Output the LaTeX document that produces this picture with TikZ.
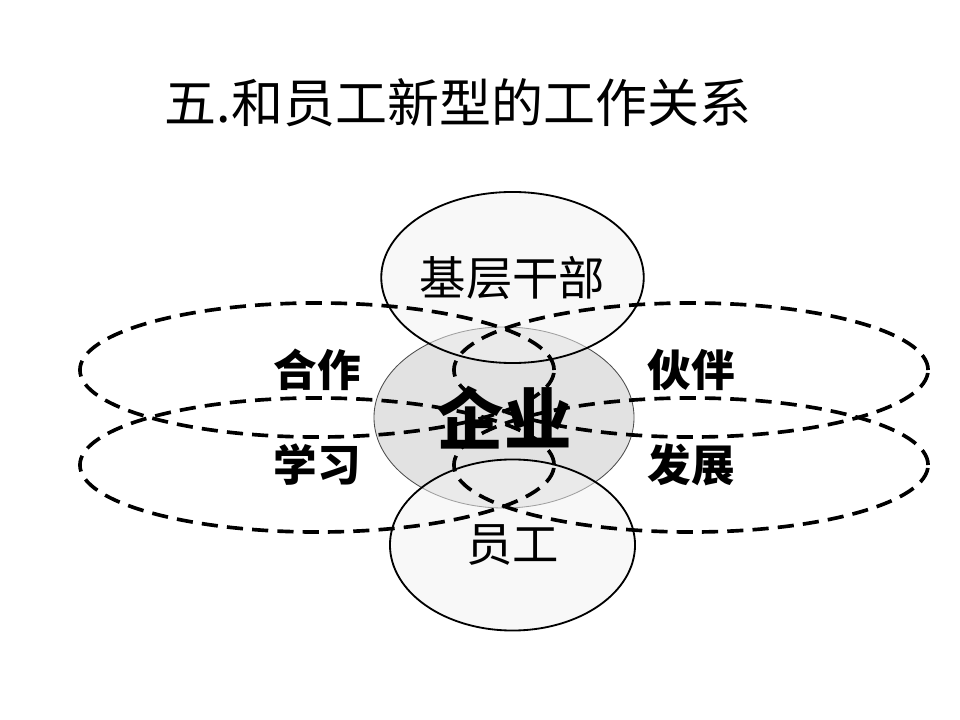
\documentclass[tikz,border=0pt]{standalone}
\usepackage{fontspec}
\newfontfamily\cjk{Noto Sans CJK SC}
\usetikzlibrary{positioning, shapes.geometric}
\definecolor{kGray}{HTML}{E2E2E2}
\definecolor{kPale}{HTML}{F2F2F2}

\begin{document}
\begin{tikzpicture}[
  x=0.025cm, y=-0.025cm,
  layer/.style={
    ellipse,
    draw=black,
    line width=1.3pt,
    fill=kPale,
    fill opacity=0.5,
    text opacity=1,
    minimum width=6.125cm,
    minimum height=4.275cm,
    inner sep=0pt,
    font=\cjk\fontsize{33}{36}\selectfont
  },
  core/.style={
    ellipse,
    draw=black!70,
    line width=0.6pt,
    fill=kGray,
    minimum width=6.5cm,
    minimum height=4.525cm,
    inner sep=0pt,
    font=\cjk\bfseries\fontsize{48}{52}\selectfont
  },
  band/.style={
    ellipse,
    draw=black,
    line width=2.6pt,
    dash pattern=on 11.5pt off 6.5pt,
    minimum width=11.85cm,
    minimum height=3.35cm,
    inner sep=0pt,
    font=\cjk\bfseries\fontsize{31}{34}\selectfont
  }
]
\useasboundingbox (0,0) rectangle (960,720);

\node[font=\cjk\fontsize{37}{40}\selectfont] (title) at (458,103) {五.和员工新型的工作关系};

\node[core] (firm) at (504,417.5) {企业};

\node[layer] (cadre) at (512.5,277.5) {基层干部};
\node[layer] (staff) at (512.5,545) {员工};

\node[band] (coop) at (317,370) {合作};
\node[band] (partner) at (691,370) {伙伴};
\node[band] (learn) at (317,465) {学习};
\node[band] (grow) at (691,465) {发展};

\end{tikzpicture}
\end{document}
